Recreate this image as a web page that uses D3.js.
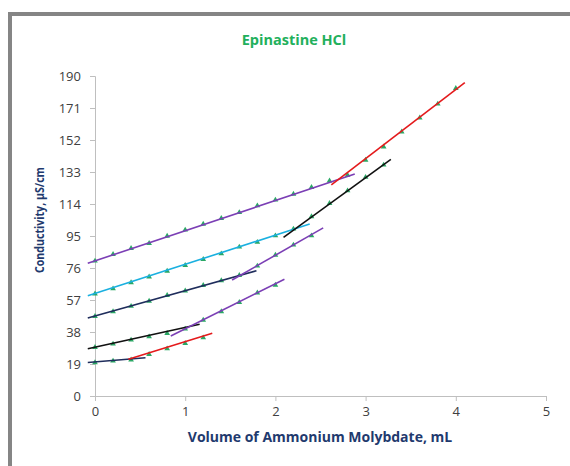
<!DOCTYPE html>
<html>
<head>
<meta charset="utf-8">
<script src="https://cdn.jsdelivr.net/npm/d3@7"></script>
<style>
  body { margin: 0; background: #fff; }
  svg { display: block; font-family: "Open Sans", "Liberation Sans", sans-serif; }
</style>
</head>
<body>
<div id="chart"></div>
<script>
// tick values
var yTicks = [0, 19, 38, 57, 76, 95, 114, 133, 152, 171, 190]
var xTicks = [0, 1, 2, 3, 4, 5]

// measured points (volume mL, conductivity) for each run
var run1X = [0, 0.2, 0.4, 0.6, 0.8, 1.0, 1.2]
var run1Y = [19.8, 20.8, 21.5, 24.7, 28.1, 31.3, 34.6]
var run2X = [0, 0.2, 0.4, 0.6, 0.8, 1.0, 1.2, 1.4, 1.6, 1.8, 2.0]
var run2Y = [28.9, 30.9, 33.3, 35.2, 37.2, 39.8, 45.1, 50.1, 55.6, 61.3, 65.9]
var run3X = [0, 0.2, 0.4, 0.6, 0.8, 1.0, 1.2, 1.4, 1.6, 1.8, 2.0, 2.2, 2.4]
var run3Y = [47.3, 50.1, 53.3, 56.4, 59.8, 62.5, 65.7, 68.5, 71.7, 77.2, 83.7, 89.7, 95.2]
var run4X = [0, 0.2, 0.4, 0.6, 0.8, 1.0, 1.2, 1.4, 1.6, 1.8, 2.0, 2.2, 2.4, 2.6, 2.8, 3.0, 3.2]
var run4Y = [60.7, 63.7, 67.3, 70.8, 74.2, 77.6, 81.2, 84.5, 88.5, 91.3, 95.2, 99.2, 106.5, 114.4, 121.9, 129.9, 137.2]
var run5X = [0, 0.2, 0.4, 0.6, 0.8, 1.0, 1.2, 1.4, 1.6, 1.8, 2.0, 2.2, 2.4, 2.6, 2.8, 3.0, 3.2, 3.4, 3.6, 3.8, 4.0]
var run5Y = [80.2, 84.1, 87.7, 90.7, 95.0, 98.6, 102.1, 105.5, 109.0, 113.0, 116.4, 119.9, 123.9, 127.8, 131.2, 140.1, 148.0, 156.9, 165.2, 173.4, 182.7]

// fitted line segments: [x1, y1, x2, y2]
var fitLines = [
  { seg: [-0.08, 19.9, 0.56, 22.7], color: "#1f2d5c" },
  { seg: [0.37, 21.8, 1.3, 37.2], color: "#e41a1c" },
  { seg: [-0.08, 28.0, 1.16, 42.6], color: "#111111" },
  { seg: [0.84, 35.6, 2.1, 69.3], color: "#7b3fb5" },
  { seg: [-0.08, 46.3, 1.79, 74.4], color: "#1f2d5c" },
  { seg: [1.52, 68.9, 2.53, 99.8], color: "#7b3fb5" },
  { seg: [-0.08, 59.5, 2.38, 102.1], color: "#1ab0e0" },
  { seg: [2.09, 94.2, 3.28, 140.5], color: "#111111" },
  { seg: [-0.08, 78.8, 2.88, 131.8], color: "#7b3fb5" },
  { seg: [2.62, 125.3, 4.1, 186.0], color: "#e41a1c" }
]

var W = 570, H = 466
var margin = { top: 76, right: 24, bottom: 70, left: 95 }
var width = W - margin.left - margin.right   // 451
var height = H - margin.top - margin.bottom  // 320

var svg = d3.select("#chart")
  .append("svg")
  .attr("width", W)
  .attr("height", H)

// outer frame
svg.append("rect")
  .attr("x", 10).attr("y", 14)
  .attr("width", W + 10).attr("height", H + 10)
  .attr("fill", "none")
  .attr("stroke", "#858585")
  .attr("stroke-width", 4)

var g = svg.append("g")
  .attr("transform", "translate(" + margin.left + "," + margin.top + ")")

var x = d3.scaleLinear().domain([0, 5]).range([0, width])
var y = d3.scaleLinear().domain([0, 190]).range([height, 0])

// axes
var yAxis = g.append("g")
  .call(d3.axisLeft(y).tickValues(yTicks).tickSize(5).tickPadding(9))
var xAxis = g.append("g")
  .attr("transform", "translate(0," + height + ")")
  .call(d3.axisBottom(x).tickValues(xTicks).tickFormat(d3.format("d")).tickSize(5).tickPadding(6))

;[xAxis, yAxis].forEach(function (a) {
  a.select(".domain").attr("stroke", "#bfbfbf")
  a.selectAll(".tick line").attr("stroke", "#bfbfbf")
  a.selectAll(".tick text")
    .attr("fill", "#404040")
    .style("font-size", "13px")
    .style("font-family", "'Open Sans', sans-serif")
})

// markers
var runs = [[run1X, run1Y], [run2X, run2Y], [run3X, run3Y], [run4X, run4Y], [run5X, run5Y]]
var pts = []
runs.forEach(function (r) {
  r[0].forEach(function (xv, i) { pts.push([xv, r[1][i]]) })
})
var tri = d3.symbol().type(d3.symbolTriangle).size(14)
g.append("g")
  .selectAll("path")
  .data(pts)
  .enter()
  .append("path")
  .attr("d", tri)
  .attr("transform", d => "translate(" + x(d[0]) + "," + y(d[1]) + ")")
  .attr("fill", "#2aa865")

// fit lines
g.append("g")
  .selectAll("line")
  .data(fitLines)
  .enter()
  .append("line")
  .attr("x1", d => x(d.seg[0]))
  .attr("y1", d => y(d.seg[1]))
  .attr("x2", d => x(d.seg[2]))
  .attr("y2", d => y(d.seg[3]))
  .attr("stroke", d => d.color)
  .attr("stroke-width", 1.6)

// titles
svg.append("text")
  .attr("x", 294).attr("y", 45)
  .attr("text-anchor", "middle")
  .attr("fill", "#22b05c")
  .style("font-size", "14.5px")
  .style("font-weight", "bold")
  .text("Epinastine HCl")

svg.append("text")
  .attr("x", 320).attr("y", 442)
  .attr("text-anchor", "middle")
  .attr("fill", "#1f3a6e")
  .style("font-size", "14px")
  .style("font-weight", "bold")
  .text("Volume of Ammonium Molybdate, mL")

svg.append("text")
  .attr("transform", "translate(44,220) rotate(-90)")
  .attr("text-anchor", "middle")
  .attr("fill", "#1f3a6e")
  .attr("textLength", 106)
  .attr("lengthAdjust", "spacingAndGlyphs")
  .style("font-size", "13px")
  .style("font-weight", "bold")
  .text("Conductivity, µS/cm")
</script>
</body>
</html>
